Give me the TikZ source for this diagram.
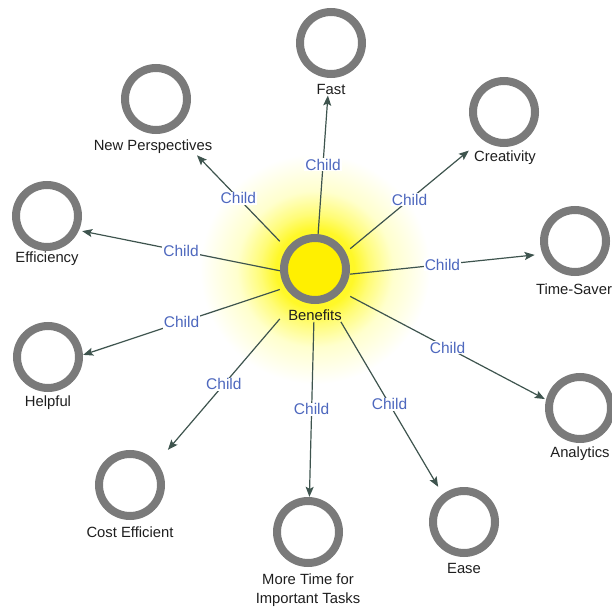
\documentclass[tikz,border=0pt]{standalone}
\usepackage{fontspec}
\setmainfont{Liberation Sans}
\usetikzlibrary{arrows.meta,fit}

\definecolor{ringgray}{RGB}{122,122,122}
\definecolor{linkcol}{RGB}{62,84,78}
\definecolor{childblue}{RGB}{78,104,190}
\definecolor{hubyellow}{RGB}{255,240,0}
\definecolor{glowA}{RGB}{255,248,40}
\definecolor{glowB}{RGB}{255,252,120}
\definecolor{glowC}{RGB}{255,255,205}
\definecolor{captext}{RGB}{30,30,30}

% soft yellow halo behind the hub (25bp is the rim of the shaded circle)
\pgfdeclareradialshading{hubglow}{\pgfpoint{0bp}{0bp}}{%
  color(0bp)=(glowA); color(8.5bp)=(glowA); color(12bp)=(glowB);
  color(17bp)=(glowC); color(25bp)=(white); color(50bp)=(white)}

\begin{document}
\begin{tikzpicture}[x=1pt,y=-1pt,
  ring/.style={circle,draw=ringgray,line width=8pt,fill=white,minimum size=62pt,inner sep=0pt},
  caption/.style={font=\fontsize{14.8}{19}\selectfont,inner sep=1pt,align=center,text=captext},
  group/.style={inner sep=0pt},
  link/.style={draw=linkcol,line width=1.2pt,-{Stealth[length=10pt,width=8pt,inset=2pt]}},
  childlab/.style={font=\fontsize{15.5}{18}\selectfont,text=childblue,fill=white,inner sep=1pt}]

\useasboundingbox (0,0) rectangle (611,612);
\shade[shading=hubglow] (315,269) circle (115);

% hub
\node[ring,fill=hubyellow] (hubc) at (315,269) {};
\node[caption] (hubl) at (315,315) {Benefits};
\node[group,fit=(hubc)(hubl)] (hub) {};

% leaves: ring, caption, and a box around both
\node[ring] (fastc) at (331,43) {};
\node[caption] (fastl) at (331,89) {Fast};
\node[group,fit=(fastc)(fastl)] (fast) {};

\node[ring] (newpc) at (156,99) {};
\node[caption] (newpl) at (153,147) {New Perspectives};
\node[group,fit=(newpc)(newpl)] (newp) {};

\node[ring] (creac) at (504,112) {};
\node[caption] (creal) at (505,158) {Creativity};
\node[group,fit=(creac)(creal)] (crea) {};

\node[ring] (effc) at (47,216) {};
\node[caption] (effl) at (47,259) {Efficiency};
\node[group,fit=(effc)(effl)] (eff) {};

\node[ring] (timec) at (575,241) {};
\node[caption] (timel) at (574,289) {Time-Saver};
\node[group,fit=(timec)(timel)] (time) {};

\node[ring] (helpc) at (48,357) {};
\node[caption] (helpl) at (48,403) {Helpful};
\node[group,fit=(helpc)(helpl)] (help) {};

\node[ring] (analc) at (580,408) {};
\node[caption] (anall) at (580,454) {Analytics};
\node[group,fit=(analc)(anall)] (anal) {};

\node[ring] (costc) at (130,485) {};
\node[caption] (costl) at (130,532) {Cost Efficient};
\node[group,fit=(costc)(costl)] (cost) {};

\node[ring] (morec) at (308,532) {};
\node[caption] (morel) at (308,590) {More Time for\\Important Tasks};
\node[group,fit=(morec)(morel)] (more) {};

\node[ring] (easec) at (464,522) {};
\node[caption] (easel) at (464,568) {Ease};
\node[group,fit=(easec)(easel)] (ease) {};

% connectors
\foreach \leaf in {fast,newp,crea,eff,time,help,anal,cost,more,ease}
  \draw[link] (hub) -- node[childlab] {Child} (\leaf);

\end{tikzpicture}
\end{document}
